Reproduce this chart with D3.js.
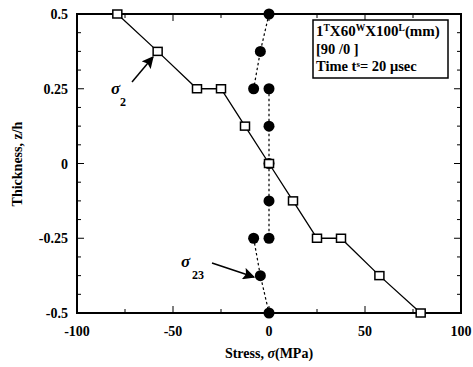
<!DOCTYPE html>
<html><head><meta charset="utf-8">
<script src="https://cdn.jsdelivr.net/npm/d3@7"></script>
<style>
body{margin:0;background:#fff;}
text{font-family:"Liberation Serif","Times New Roman",serif;font-weight:bold;fill:#000;}
</style></head>
<body><svg id="c" width="473" height="367"></svg>
<script>
// sigma_2 (open squares)
const zSq = [0.5, 0.375, 0.25, 0.25, 0.125, 0, -0.125, -0.25, -0.25, -0.375, -0.5];
const sSq = [-79, -58, -37.5, -25, -12.5, 0, 12.5, 25, 37.5, 57.5, 79];
// sigma_23 (filled circles), seg = connected dotted segment id
const zCi = [0.5, 0.375, 0.25, 0.25, 0.125, 0, -0.125, -0.25, -0.25, -0.375, -0.5];
const sCi = [0, -4.5, -8, 0, 0, 0, 0, 0, -8, -4.5, 0];
const segCi = [0, 0, 0, 1, 1, 1, 1, 1, 2, 2, 2];
const xTicks = [-100, -50, 0, 50, 100];
const xTickLabels = ["-100", "-50", "0", "50", "100"];
const yTicks = [0.5, 0.25, 0, -0.25, -0.5];
const yTickLabels = ["0.5", "0.25", "0", "-0.25", "-0.5"];

const svg = d3.select("#c");
const L = 77, R = 461, T = 14, B = 313;
const x = d3.scaleLinear().domain([-100, 100]).range([L, R]);
const y = d3.scaleLinear().domain([-0.5, 0.5]).range([B, T]);

// frame
svg.append("rect").attr("x", L).attr("y", T).attr("width", R - L).attr("height", B - T)
  .attr("fill", "none").attr("stroke", "#000").attr("stroke-width", 2);

// ticks (inward)
const xMinor = d3.range(-100, 100.1, 25);
const yMinor = d3.range(-0.5, 0.5001, 0.0625);
xMinor.forEach(v => {
  const len = (v % 50 === 0) ? 7 : 4;
  svg.append("line").attr("x1", x(v)).attr("x2", x(v)).attr("y1", B).attr("y2", B - len).attr("stroke", "#000");
  svg.append("line").attr("x1", x(v)).attr("x2", x(v)).attr("y1", T).attr("y2", T + len).attr("stroke", "#000");
});
yMinor.forEach(v => {
  const major = Math.abs((v * 4) - Math.round(v * 4)) < 1e-6;
  const len = major ? 7 : 4;
  svg.append("line").attr("x1", L).attr("x2", L + len).attr("y1", y(v)).attr("y2", y(v)).attr("stroke", "#000");
  svg.append("line").attr("x1", R).attr("x2", R - len).attr("y1", y(v)).attr("y2", y(v)).attr("stroke", "#000");
});

// tick labels
svg.selectAll(".xl").data(xTicks).enter().append("text")
  .attr("x", d => x(d)).attr("y", 336).attr("text-anchor", "middle")
  .attr("font-size", 14).text((d, i) => xTickLabels[i]);
svg.selectAll(".yl").data(yTicks).enter().append("text")
  .attr("x", 68).attr("y", d => y(d) + 5).attr("text-anchor", "end")
  .attr("font-size", 14).text((d, i) => yTickLabels[i]);

// axis titles
const xt = svg.append("text").attr("x", 269).attr("y", 358).attr("text-anchor", "middle").attr("font-size", 14);
xt.append("tspan").text("Stress, ");
xt.append("tspan").attr("font-style", "italic").text("σ");
xt.append("tspan").text("(MPa)");
svg.append("text").attr("transform", "translate(22,164) rotate(-90)").attr("text-anchor", "middle")
  .attr("font-size", 14).text("Thickness, z/h");

// sigma_2 line + squares
const sqData = zSq.map((z, i) => ({ z, s: sSq[i] }));
svg.append("path").datum(sqData)
  .attr("d", d3.line().x(d => x(d.s)).y(d => y(d.z)))
  .attr("fill", "none").attr("stroke", "#000").attr("stroke-width", 1.3);

// sigma_23 dotted
const ciData = zCi.map((z, i) => ({ z, s: sCi[i], g: segCi[i] }));
d3.groups(ciData, d => d.g).forEach(([g, pts]) => {
  svg.append("path").datum(pts)
    .attr("d", d3.line().x(d => x(d.s)).y(d => y(d.z)))
    .attr("fill", "none").attr("stroke", "#000").attr("stroke-width", 1.2).attr("stroke-dasharray", "2.5,2.5");
});
svg.selectAll(".ci").data(ciData).enter().append("circle")
  .attr("cx", d => x(d.s)).attr("cy", d => y(d.z)).attr("r", 5.5).attr("fill", "#000");

svg.selectAll(".sq").data(sqData).enter().append("rect")
  .attr("x", d => x(d.s) - 4.5).attr("y", d => y(d.z) - 4).attr("width", 9).attr("height", 8)
  .attr("fill", "#fff").attr("stroke", "#000").attr("stroke-width", 1.5);

// arrows
const defs = svg.append("defs");
defs.append("marker").attr("id", "ah").attr("viewBox", "0 0 10 10").attr("refX", 9).attr("refY", 5)
  .attr("markerWidth", 12).attr("markerHeight", 12).attr("markerUnits", "userSpaceOnUse").attr("orient", "auto")
  .append("path").attr("d", "M0,0 L10,5 L0,10 L2,5 Z").attr("fill", "#000");
svg.append("line").attr("x1", 132).attr("y1", 82).attr("x2", 153).attr("y2", 57)
  .attr("stroke", "#000").attr("stroke-width", 1.5).attr("marker-end", "url(#ah)");
svg.append("line").attr("x1", 212).attr("y1", 263).attr("x2", 254).attr("y2", 277)
  .attr("stroke", "#000").attr("stroke-width", 1.5).attr("marker-end", "url(#ah)");

// annotation labels
svg.append("text").attr("x", 111).attr("y", 94).attr("font-size", 17).attr("font-style", "italic").text("σ");
svg.append("text").attr("x", 120).attr("y", 106).attr("font-size", 12).text("2");
svg.append("text").attr("x", 181).attr("y", 267).attr("font-size", 17).attr("font-style", "italic").text("σ");
svg.append("text").attr("x", 192).attr("y", 279).attr("font-size", 12).text("23");

// info box
svg.append("rect").attr("x", 313).attr("y", 20).attr("width", 135).attr("height", 58)
  .attr("fill", "#fff").attr("stroke", "#000").attr("stroke-width", 1.5);
const t1 = svg.append("text").attr("x", 316).attr("y", 36).attr("font-size", 15);
t1.append("tspan").text("1");
t1.append("tspan").attr("dy", -5).attr("font-size", 9.5).text("T");
t1.append("tspan").attr("dy", 5).text("X60");
t1.append("tspan").attr("dy", -5).attr("font-size", 9.5).text("W");
t1.append("tspan").attr("dy", 5).text("X100");
t1.append("tspan").attr("dy", -5).attr("font-size", 9.5).text("L");
t1.append("tspan").attr("dy", 5).text("(mm)");
svg.append("text").attr("x", 316).attr("y", 53.5).attr("font-size", 14.5).text("[90 /0 ]");
const t3 = svg.append("text").attr("x", 316).attr("y", 71).attr("font-size", 14.5);
t3.append("tspan").text("Time t");
t3.append("tspan").attr("dy", -4).attr("font-size", 9).text("s");
t3.append("tspan").attr("dy", 4).text("= 20 μsec");
</script></body></html>
